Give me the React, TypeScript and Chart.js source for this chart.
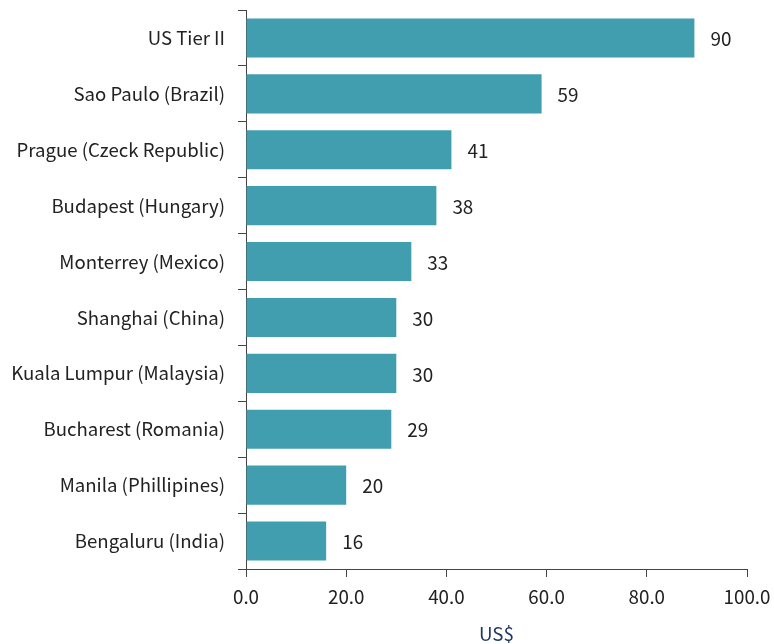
import React, { useEffect, useRef } from "react";
import { Chart, registerables } from "chart.js";

Chart.register(...registerables);

const categories = [
  "US Tier II",
  "Sao Paulo (Brazil)",
  "Prague (Czeck Republic)",
  "Budapest (Hungary)",
  "Monterrey (Mexico)",
  "Shanghai (China)",
  "Kuala Lumpur (Malaysia)",
  "Bucharest (Romania)",
  "Manila (Phillipines)",
  "Bengaluru (India)",
];
const values = [89.5, 59, 41, 38, 33, 30, 30, 29, 20, 16];
const valueLabels = ["90", "59", "41", "38", "33", "30", "30", "29", "20", "16"];
const xTicks = [0, 20, 40, 60, 80, 100];
const xTitle = "US$";

const FONT = "'Noto Sans CJK JP', 'DejaVu Sans Condensed', sans-serif";

function fitSize(text: string, target: number, base: number): number {
  const c = document.createElement("canvas").getContext("2d")!;
  c.font = `${base}px ${FONT}`;
  const w = c.measureText(text).width;
  return Math.round(((base * target) / w) * 10) / 10;
}

export default function App() {
  const ref = useRef<HTMLCanvasElement>(null);
  useEffect(() => {
    if (!ref.current) return;
    const labelSize = fitSize("Kuala Lumpur (Malaysia)", 214, 23);
    const tickSize = fitSize("100.0", 47, 21);
    const valueSize = fitSize("90", 21, 23);
    const titleSize = fitSize("US$", 35, 23);

    const valueLabelPlugin = {
      id: "valueLabels",
      afterDatasetsDraw(chart: any) {
        const ctx = chart.ctx;
        const meta = chart.getDatasetMeta(0);
        ctx.save();
        ctx.font = `${valueSize}px ${FONT}`;
        ctx.fillStyle = "#222222";
        ctx.textAlign = "left";
        ctx.textBaseline = "middle";
        meta.data.forEach((bar: any, i: number) => {
          ctx.fillText(valueLabels[i], bar.x + 16, bar.y + 1);
        });
        ctx.restore();
      },
    };

    const chart = new Chart(ref.current, {
      type: "bar",
      data: {
        labels: categories,
        datasets: [
          {
            data: values,
            backgroundColor: "#419EAE",
            borderWidth: 0,
            barPercentage: 0.7,
            categoryPercentage: 1,
          },
        ],
      },
      plugins: [valueLabelPlugin],
      options: {
        indexAxis: "y",
        responsive: false,
        animation: false,
        layout: { padding: { top: 10, right: 27, bottom: 0, left: 0 } },
        plugins: {
          legend: { display: false },
          tooltip: { enabled: false },
        },
        scales: {
          x: {
            type: "linear",
            min: 0,
            max: 100,
            afterBuildTicks: (scale: any) => {
              scale.ticks = xTicks.map((v) => ({ value: v }));
            },
            afterFit: (scale: any) => {
              scale.height = 75;
              scale.paddingLeft = 0;
              scale.paddingRight = 0;
            },
            ticks: {
              color: "#222222",
              font: { family: FONT, size: tickSize },
              padding: 9,
              maxRotation: 0,
              callback: (v: any) => Number(v).toFixed(1),
            },
            grid: {
              display: true,
              drawOnChartArea: false,
              drawTicks: true,
              tickLength: 8,
              color: "#444444",
              lineWidth: 1,
            },
            border: { display: true, color: "#444444", width: 1 },
            title: {
              display: true,
              text: xTitle,
              color: "#1F3864",
              font: { family: FONT, size: titleSize },
              padding: { top: 0, bottom: -1 },
            },
          },
          y: {
            type: "category",
            afterFit: (scale: any) => {
              scale.width = 246;
              scale.paddingTop = 0;
              scale.paddingBottom = 0;
            },
            ticks: {
              color: "#222222",
              font: { family: FONT, size: labelSize },
              padding: 13,
            },
            grid: {
              display: true,
              offset: true,
              drawOnChartArea: false,
              drawTicks: true,
              tickLength: 8,
              color: "#444444",
              lineWidth: 1,
            },
            border: { display: true, color: "#444444", width: 1 },
          },
        },
      },
    } as any);
    return () => chart.destroy();
  }, []);
  return (
    <div style={{ position: "fixed", left: 0, top: 0, width: 774, height: 644, background: "#ffffff" }}>
      <canvas ref={ref} width={774} height={644} style={{ display: "block" }} />
    </div>
  );
}
